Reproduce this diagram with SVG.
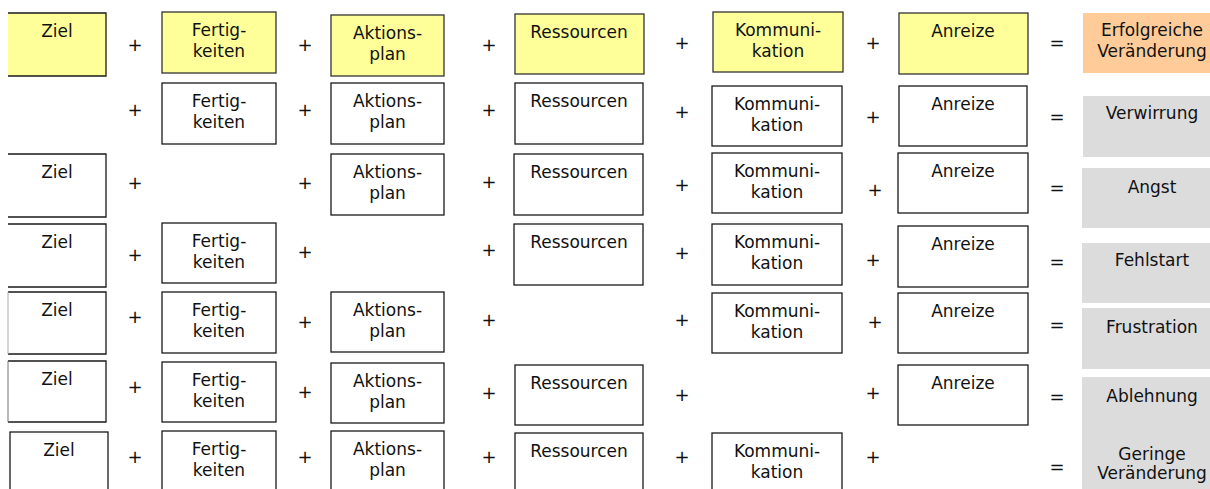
<svg xmlns="http://www.w3.org/2000/svg" width="1210" height="489" viewBox="0 0 1210 489">
<style>
text{font-family:"DejaVu Sans","Verdana",sans-serif;font-size:17px;fill:#111;text-anchor:middle}
.op{font-size:18px}
.b{fill:#fff;stroke:#1a1a1a;stroke-width:1.3}
.y{fill:#ffff99;stroke:#333;stroke-width:1.3}
.o{fill:#ffcc99}
.g{fill:#dcdcdc}
.e{fill:none;stroke:#1a1a1a;stroke-width:1.3}
</style>
<rect width="1210" height="489" fill="#fff"/>

<!-- Row 1 -->
<g id="r1-ziel"><rect x="8" y="13" width="98" height="63" fill="#ffff99"/><path class="e" d="M8 13H106V76H8" stroke="#333"/><text x="57" y="37">Ziel</text></g>
<g id="r1-fert"><rect class="y" x="162" y="12" width="114" height="61"/><text x="219" y="36">Fertig-</text><text x="219" y="57">keiten</text></g>
<g id="r1-akt"><rect class="y" x="331" y="15" width="113" height="61"/><text x="387.5" y="39">Aktions-</text><text x="387.5" y="60">plan</text></g>
<g id="r1-res"><rect class="y" x="515" y="14" width="129" height="60"/><text x="579" y="38">Ressourcen</text></g>
<g id="r1-kom"><rect class="y" x="713" y="12" width="130" height="60"/><text x="778" y="36">Kommuni-</text><text x="778" y="57">kation</text></g>
<g id="r1-anr"><rect class="y" x="899" y="13" width="129" height="61"/><text x="963" y="37">Anreize</text></g>
<g id="r1-res-out"><rect class="o" x="1083" y="13" width="127" height="60"/><text x="1152" y="36">Erfolgreiche</text><text x="1152" y="57">Veränderung</text></g>

<!-- Row 2 -->
<g id="r2-fert"><rect class="b" x="162" y="83" width="114" height="61"/><text x="219" y="107">Fertig-</text><text x="219" y="128">keiten</text></g>
<g id="r2-akt"><rect class="b" x="331" y="83" width="113" height="61"/><text x="387.5" y="107">Aktions-</text><text x="387.5" y="128">plan</text></g>
<g id="r2-res"><rect class="b" x="515" y="83" width="128" height="61"/><text x="579" y="107">Ressourcen</text></g>
<g id="r2-kom"><rect class="b" x="712" y="86" width="130" height="60"/><text x="777" y="110">Kommuni-</text><text x="777" y="131">kation</text></g>
<g id="r2-anr"><rect class="b" x="899" y="86" width="128" height="60"/><text x="963" y="110">Anreize</text></g>
<g id="r2-out"><rect class="g" x="1083" y="96" width="127" height="61"/><text x="1152" y="119">Verwirrung</text></g>

<!-- Row 3 -->
<g id="r3-ziel"><path class="e" d="M8 154H106V217H8"/><text x="57" y="178">Ziel</text></g>
<g id="r3-akt"><rect class="b" x="331" y="154" width="113" height="61"/><text x="387.5" y="178">Aktions-</text><text x="387.5" y="199">plan</text></g>
<g id="r3-res"><rect class="b" x="514" y="154" width="129" height="61"/><text x="579" y="178">Ressourcen</text></g>
<g id="r3-kom"><rect class="b" x="712" y="153" width="130" height="60"/><text x="777" y="177">Kommuni-</text><text x="777" y="198">kation</text></g>
<g id="r3-anr"><rect class="b" x="898" y="153" width="130" height="60"/><text x="963" y="177">Anreize</text></g>
<g id="r3-out"><rect class="g" x="1082" y="168" width="128" height="60"/><text x="1152" y="193">Angst</text></g>

<!-- Row 4 -->
<g id="r4-ziel"><path class="e" d="M8 224H106V287H8"/><text x="57" y="248">Ziel</text></g>
<g id="r4-fert"><rect class="b" x="162" y="223" width="114" height="60"/><text x="219" y="247">Fertig-</text><text x="219" y="268">keiten</text></g>
<g id="r4-res"><rect class="b" x="514" y="224" width="129" height="61"/><text x="579" y="248">Ressourcen</text></g>
<g id="r4-kom"><rect class="b" x="712" y="224" width="130" height="61"/><text x="777" y="248">Kommuni-</text><text x="777" y="269">kation</text></g>
<g id="r4-anr"><rect class="b" x="898" y="226" width="130" height="61"/><text x="963" y="250">Anreize</text></g>
<g id="r4-out"><rect class="g" x="1082" y="243" width="128" height="60"/><text x="1152" y="266">Fehlstart</text></g>

<!-- Row 5 -->
<g id="r5-ziel"><path class="e" d="M8 292H106V354H8"/><path d="M8 292V354" stroke="#aaa" stroke-width="1"/><text x="57" y="316">Ziel</text></g>
<g id="r5-fert"><rect class="b" x="162" y="292" width="114" height="61"/><text x="219" y="316">Fertig-</text><text x="219" y="337">keiten</text></g>
<g id="r5-akt"><rect class="b" x="331" y="292" width="113" height="60"/><text x="387.5" y="316">Aktions-</text><text x="387.5" y="337">plan</text></g>
<g id="r5-kom"><rect class="b" x="712" y="293" width="130" height="60"/><text x="777" y="317">Kommuni-</text><text x="777" y="338">kation</text></g>
<g id="r5-anr"><rect class="b" x="898" y="293" width="130" height="60"/><text x="963" y="317">Anreize</text></g>
<g id="r5-out"><rect class="g" x="1082" y="308" width="128" height="61"/><text x="1152" y="333">Frustration</text></g>

<!-- Row 6 -->
<g id="r6-ziel"><path class="e" d="M8 361H106V422H8"/><path d="M8 361V422" stroke="#777" stroke-width="1"/><text x="57" y="385">Ziel</text></g>
<g id="r6-fert"><rect class="b" x="162" y="362" width="114" height="60"/><text x="219" y="386">Fertig-</text><text x="219" y="407">keiten</text></g>
<g id="r6-akt"><rect class="b" x="331" y="363" width="113" height="60"/><text x="387.5" y="387">Aktions-</text><text x="387.5" y="408">plan</text></g>
<g id="r6-res"><rect class="b" x="515" y="365" width="128" height="60"/><text x="579" y="389">Ressourcen</text></g>
<g id="r6-anr"><rect class="b" x="898" y="365" width="130" height="60"/><text x="963" y="389">Anreize</text></g>
<g id="r6-out"><rect class="g" x="1082" y="377" width="128" height="56"/><text x="1152" y="402">Ablehnung</text></g>

<!-- Row 7 -->
<g id="r7-ziel"><rect class="b" x="10" y="432" width="98" height="70"/><text x="59" y="456">Ziel</text></g>
<g id="r7-fert"><rect class="b" x="162" y="431" width="114" height="70"/><text x="219" y="455">Fertig-</text><text x="219" y="476">keiten</text></g>
<g id="r7-akt"><rect class="b" x="331" y="431" width="113" height="70"/><text x="387.5" y="455">Aktions-</text><text x="387.5" y="476">plan</text></g>
<g id="r7-res"><rect class="b" x="515" y="433" width="128" height="70"/><text x="579" y="457">Ressourcen</text></g>
<g id="r7-kom"><rect class="b" x="712" y="433" width="130" height="70"/><text x="777" y="457">Kommuni-</text><text x="777" y="478">kation</text></g>
<g id="r7-out"><rect class="g" x="1082" y="431" width="128" height="58"/><text x="1152" y="460">Geringe</text><text x="1152" y="479">Veränderung</text></g>

<!-- operators (no connectors in this diagram) -->
<g id="connectors" class="operators">
<text class="op" x="135" y="51">+</text><text class="op" x="305" y="51">+</text><text class="op" x="489" y="51">+</text><text class="op" x="682" y="49">+</text><text class="op" x="873" y="49">+</text><text class="op" x="1057" y="49">=</text>
<text class="op" x="135" y="116">+</text><text class="op" x="305" y="116">+</text><text class="op" x="489" y="116">+</text><text class="op" x="682" y="118">+</text><text class="op" x="873" y="123">+</text><text class="op" x="1057" y="123">=</text>
<text class="op" x="135" y="189">+</text><text class="op" x="305" y="189">+</text><text class="op" x="489" y="188">+</text><text class="op" x="682" y="191">+</text><text class="op" x="875" y="196">+</text><text class="op" x="1057" y="194">=</text>
<text class="op" x="135" y="261">+</text><text class="op" x="305" y="258">+</text><text class="op" x="489" y="256">+</text><text class="op" x="682" y="259">+</text><text class="op" x="873" y="266">+</text><text class="op" x="1057" y="268">=</text>
<text class="op" x="135" y="323">+</text><text class="op" x="305" y="328">+</text><text class="op" x="489" y="326">+</text><text class="op" x="682" y="326">+</text><text class="op" x="875" y="328">+</text><text class="op" x="1057" y="331">=</text>
<text class="op" x="135" y="393">+</text><text class="op" x="305" y="398">+</text><text class="op" x="489" y="399">+</text><text class="op" x="682" y="401">+</text><text class="op" x="873" y="399">+</text><text class="op" x="1057" y="403">=</text>
<text class="op" x="135" y="463">+</text><text class="op" x="305" y="463">+</text><text class="op" x="489" y="463">+</text><text class="op" x="682" y="463">+</text><text class="op" x="873" y="463">+</text><text class="op" x="1057" y="473">=</text>
</g>
</svg>
